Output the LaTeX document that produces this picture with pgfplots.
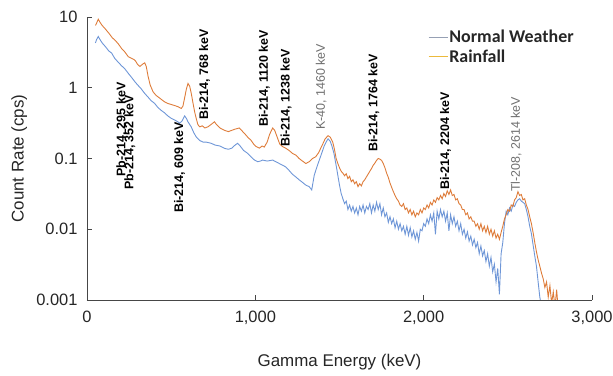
\documentclass[border=0pt]{standalone}
\usepackage{fontspec}
\setmainfont{Liberation Sans}
\newfontfamily\legfont{Carlito}
\usepackage{pgfplots}
\usepackage{pgfplotstable}
\pgfplotsset{compat=1.18}
\definecolor{rainc}{RGB}{222,124,58}
\definecolor{normc}{RGB}{110,150,215}
\definecolor{leglineA}{RGB}{150,160,180}
\definecolor{leglineB}{RGB}{236,186,60}
\definecolor{axc}{RGB}{70,70,70}
\definecolor{labgray}{RGB}{110,110,110}

\pgfplotstableread{
E y
50 7.6
57 8.2
67 9.3
75 8.6
90 7.6
106 6.9
130 5.9
150 5.1
170 4.6
185 4.2
205 3.6
225 3.2
245 2.75
265 2.6
280 2.5
288 2.4
300 2.15
314 2.0
330 2.15
343 2.25
352 2.0
363 1.45
375 1.1
392 0.88
410 0.78
430 0.72
450 0.66
462 0.63
480 0.60
500 0.58
521 0.56
540 0.54
560 0.51
570 0.55
580 0.72
590 0.95
600 1.15
610 1.05
620 0.82
629 0.62
640 0.45
650 0.36
659 0.30
670 0.28
685 0.29
700 0.27
718 0.28
735 0.30
757 0.33
770 0.30
790 0.27
817 0.25
840 0.24
860 0.25
880 0.26
905 0.27
925 0.24
940 0.22
955 0.20
975 0.18
990 0.16
1004 0.148
1024 0.14
1040 0.15
1053 0.145
1070 0.17
1085 0.22
1103 0.27
1115 0.25
1130 0.20
1145 0.16
1162 0.147
1180 0.14
1200 0.13
1221 0.118
1240 0.112
1260 0.10
1280 0.092
1300 0.085
1320 0.09
1340 0.10
1359 0.106
1375 0.12
1395 0.15
1415 0.19
1432 0.21
1445 0.20
1460 0.17
1470 0.135
1480 0.10
1490 0.085
1500 0.074
1510 0.066
1520 0.062
1530 0.057
1540 0.061
1550 0.052
1560 0.056
1570 0.047
1580 0.050
1590 0.044
1600 0.047
1610 0.040
1620 0.044
1630 0.041
1640 0.047
1650 0.050
1660 0.055
1670 0.060
1680 0.066
1690 0.072
1700 0.080
1710 0.086
1720 0.094
1730 0.10
1740 0.098
1750 0.094
1760 0.085
1770 0.074
1780 0.062
1790 0.054
1800 0.045
1810 0.039
1820 0.034
1830 0.030
1840 0.027
1850 0.025
1860 0.022
1870 0.021
1880 0.023
1890 0.019
1900 0.020
1910 0.017
1920 0.019
1930 0.016
1940 0.018
1950 0.015
1960 0.017
1970 0.016
1980 0.019
1990 0.017
2000 0.020
2010 0.019
2020 0.022
2030 0.020
2040 0.024
2050 0.022
2060 0.026
2070 0.024
2080 0.028
2090 0.026
2100 0.030
2110 0.027
2120 0.032
2130 0.029
2140 0.035
2150 0.031
2160 0.036
2170 0.030
2180 0.031
2190 0.026
2200 0.027
2210 0.023
2220 0.022
2230 0.019
2240 0.019
2250 0.016
2260 0.017
2270 0.014
2280 0.015
2290 0.013
2300 0.013
2310 0.011
2320 0.012
2330 0.010
2340 0.012
2350 0.0095
2360 0.011
2370 0.0090
2380 0.011
2390 0.0085
2400 0.010
2410 0.0080
2420 0.0095
2430 0.0075
2440 0.0085
2450 0.0072
2460 0.0090
2470 0.011
2480 0.014
2490 0.016
2500 0.019
2510 0.018
2520 0.022
2530 0.021
2540 0.026
2550 0.028
2560 0.034
2570 0.030
2580 0.031
2590 0.026
2600 0.027
2610 0.022
2620 0.019
2630 0.015
2640 0.012
2650 0.0090
2660 0.0065
2670 0.0048
2680 0.0037
2690 0.0030
2700 0.0024
2710 0.0020
2720 0.0015
2730 0.0018
2740 0.0011
2750 0.0016
2760 0.0009
2770 0.0013
2780 0.0008
2790 0.0014
2800 0.0007
}\rainfall

\pgfplotstableread{
E y
50 4.3
57 4.8
67 5.3
75 4.9
90 4.3
110 3.8
130 3.3
146 3.1
165 2.6
185 2.3
205 2.05
225 1.85
245 1.6
265 1.4
284 1.22
300 1.1
320 0.98
343 0.83
360 0.75
380 0.66
402 0.60
420 0.53
440 0.48
462 0.44
480 0.40
500 0.37
521 0.35
540 0.33
550 0.315
565 0.34
580 0.40
590 0.37
600 0.33
619 0.28
635 0.23
650 0.20
669 0.18
690 0.17
710 0.17
738 0.164
760 0.155
790 0.15
817 0.139
840 0.135
860 0.14
880 0.155
895 0.164
910 0.15
930 0.13
955 0.118
975 0.105
995 0.095
1014 0.090
1030 0.092
1043 0.095
1070 0.092
1103 0.095
1130 0.088
1150 0.083
1181 0.076
1200 0.068
1220 0.060
1240 0.055
1260 0.050
1280 0.046
1300 0.042
1320 0.040
1335 0.036
1350 0.058
1365 0.075
1380 0.095
1395 0.12
1408 0.148
1420 0.17
1432 0.19
1445 0.175
1455 0.15
1467 0.118
1480 0.080
1490 0.058
1500 0.042
1510 0.032
1520 0.027
1530 0.023
1540 0.025
1550 0.019
1560 0.022
1570 0.018
1580 0.021
1590 0.017
1600 0.020
1610 0.016
1620 0.021
1630 0.018
1640 0.022
1650 0.017
1660 0.021
1670 0.019
1680 0.023
1690 0.017
1700 0.022
1710 0.018
1720 0.024
1730 0.019
1740 0.023
1750 0.016
1760 0.020
1770 0.015
1780 0.017
1790 0.0125
1800 0.015
1810 0.012
1820 0.014
1830 0.0105
1840 0.013
1850 0.010
1860 0.012
1870 0.0095
1880 0.011
1890 0.0085
1900 0.011
1910 0.0082
1920 0.0105
1930 0.0078
1940 0.0095
1950 0.0072
1960 0.0090
1970 0.0068
1980 0.010
1990 0.0095
2000 0.012
2010 0.011
2020 0.014
2030 0.012
2040 0.016
2050 0.013
2060 0.017
2070 0.0085
2080 0.018
2090 0.014
2100 0.019
2110 0.015
2120 0.018
2130 0.013
2140 0.017
2150 0.0095
2160 0.016
2170 0.012
2180 0.015
2190 0.011
2200 0.013
2210 0.0095
2220 0.012
2230 0.0085
2240 0.010
2250 0.0075
2260 0.0092
2270 0.0068
2280 0.0080
2290 0.0060
2300 0.0072
2310 0.0055
2320 0.0065
2330 0.0045
2340 0.0058
2350 0.0042
2360 0.0050
2370 0.0035
2380 0.0045
2390 0.0030
2400 0.0040
2410 0.0025
2420 0.0032
2430 0.0018
2440 0.0028
2450 0.0012
2460 0.0045
2470 0.0065
2480 0.012
2490 0.018
2500 0.016
2510 0.020
2520 0.018
2530 0.022
2540 0.021
2550 0.024
2560 0.026
2570 0.027
2580 0.025
2590 0.024
2600 0.023
2610 0.019
2620 0.015
2630 0.011
2640 0.0087
2650 0.0060
2660 0.0042
2670 0.0030
2680 0.0018
2690 0.0011
2700 0.0008
2710 0.0009
2720 0.0007
}\normal

\begin{document}
\begin{tikzpicture}
\begin{axis}[
  name=ax,
  scale only axis,
  width=505bp, height=283bp,
  xmin=0, xmax=3000,
  ymode=log, ymin=0.001, ymax=10,
  axis lines=left,
  axis line style={-, draw=axc, line width=0.9pt},
  every outer x axis line/.append style={-},
  every outer y axis line/.append style={-},
  xtick={0,1000,2000,3000},
  xticklabels={0,{1,000},{2,000},{3,000}},
  ytick={0.001,0.01,0.1,1,10},
  yticklabels={0.001,0.01,0.1,1,10},
  tick align=inside,
  major tick length=5bp,
  minor tick length=3bp,
  tick style={draw=axc, line width=0.7pt},
  minor y tick num=8,
  log basis y=10,
  ticklabel style={font=\fontsize{16.5}{19}\selectfont, text=black!85},
  xticklabel style={yshift=-8bp},
  yticklabel style={xshift=-6bp},
  xlabel={Gamma Energy (keV)},
  ylabel={Count Rate (cps)},
  label style={font=\fontsize{17}{19}\selectfont, text=black!85, inner sep=0pt},
  xlabel style={at={(axis description cs:0.5,-0.19)}, anchor=north},
  ylabel style={at={(axis description cs:-0.118,0.5)}, anchor=south, rotate=0},
  legend style={draw=none, fill=none, at={(0.675,0.957)}, anchor=north west,
    font=\legfont\bfseries\fontsize{18}{21}\selectfont, text=black!85,
    inner xsep=0pt, inner ysep=0pt, row sep=3bp,
    nodes={inner xsep=1pt, inner ysep=1pt}},
  legend cell align=left,
  legend image code/.code={\draw[#1] (0bp,0bp) -- (19bp,0bp);},
  clip=true,
]
\addlegendimage{leglineA, line width=1.3pt}
\addlegendentry{Normal Weather}
\addlegendimage{leglineB, line width=1.3pt}
\addlegendentry{Rainfall}

\addplot[normc, line width=0.9pt, forget plot] table[x=E, y=y] {\normal};
\addplot[rainc, line width=0.9pt, forget plot] table[x=E, y=y] {\rainfall};

\begin{scope}[every node/.style={rotate=90, anchor=west, inner sep=0pt, font=\bfseries\fontsize{12.5}{14}\selectfont}]
\node at (axis cs:207,0.0548) {Pb-214, 295 keV};
\node at (axis cs:254,0.0359) {Pb-214, 352 keV};
\node at (axis cs:550,0.0170) {Bi-214, 609 keV};
\node at (axis cs:698,0.350) {Bi-214, 768 keV};
\node at (axis cs:1053,0.279) {Bi-214, 1120 keV};
\node at (axis cs:1183,0.146) {Bi-214, 1238 keV};
\node at (axis cs:1704,0.124) {Bi-214, 1764 keV};
\node at (axis cs:2130,0.0359) {Bi-214, 2204 keV};
\end{scope}
\begin{scope}[every node/.style={rotate=90, anchor=west, inner sep=0pt, text=labgray, font=\fontsize{12.5}{14}\selectfont}]
\node at (axis cs:1391,0.253) {K-40, 1460 keV};
\node at (axis cs:2550,0.0336) {Tl-208, 2614 keV};
\end{scope}
\end{axis}
\pgfresetboundingbox
\path[use as bounding box] ([xshift=-87bp,yshift=-76bp]ax.south west) rectangle ([xshift=21bp,yshift=17bp]ax.north east);
\end{tikzpicture}
\end{document}
